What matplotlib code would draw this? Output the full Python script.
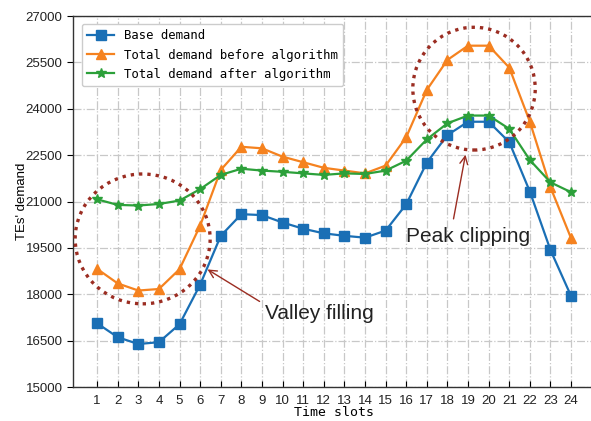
import matplotlib
matplotlib.use("Agg")
import matplotlib.pyplot as plt
from matplotlib.patches import Ellipse

slots = list(range(1, 25))
base_demand = [17060, 16610, 16390, 16450, 17030, 18310, 19890, 20590, 20560, 20320,
               20120, 19970, 19890, 19830, 20060, 20910, 22260, 23150, 23580, 23580,
               22920, 21320, 19430, 17940]
before_alg = [18820, 18350, 18120, 18170, 18810, 20220, 22020, 22770, 22720, 22450,
              22270, 22090, 22000, 21910, 22160, 23080, 24610, 25580, 26040, 26040,
              25330, 23580, 21460, 19810]
after_alg = [21070, 20890, 20870, 20920, 21030, 21400, 21860, 22060, 22000, 21960,
             21910, 21860, 21910, 21890, 22000, 22320, 23010, 23530, 23780, 23780,
             23350, 22340, 21620, 21300]
yticks = [15000, 16500, 18000, 19500, 21000, 22500, 24000, 25500, 27000]
series_names = ["Base demand", "Total demand before algorithm", "Total demand after algorithm"]

W, H = 591, 421
fig = plt.figure(figsize=(W / 100, H / 100), dpi=100)
ax_left, ax_bottom = 73 / W, (H - 387) / H
ax_w = 529 / W
ax_h = (387 - 16) / H
ax = fig.add_axes([ax_left, ax_bottom, ax_w, ax_h])

blue = "#1a6fb5"
orange = "#f5821f"
green = "#2ca03a"

ax.plot(slots, base_demand, color=blue, marker="s", markersize=7, lw=1.6, label=series_names[0], zorder=3)
ax.plot(slots, before_alg, color=orange, marker="^", markersize=7.5, lw=1.6, label=series_names[1], zorder=3)
ax.plot(slots, after_alg, color=green, marker="*", markersize=7, lw=1.6, label=series_names[2], zorder=3)

ax.set_xlim(-0.17, 25.5)
ax.set_ylim(15000, 27000)
ax.set_xticks(slots)
ax.set_yticks(yticks)
ax.tick_params(axis="x", direction="in", length=4, labelsize=9.5, pad=6)
ax.tick_params(axis="y", direction="out", length=4, labelsize=9.5)
for lab in ax.get_xticklabels() + ax.get_yticklabels():
    lab.set_fontfamily("Liberation Sans")
    lab.set_color("#222222")
ax.grid(True, color="#c8c8c8", linestyle="-.", lw=0.9, zorder=0)
ax.set_axisbelow(True)
for s in ax.spines.values():
    s.set_color("#333333")
    s.set_linewidth(1.0)

ax.set_xlabel("Time slots", fontfamily="DejaVu Sans Mono", fontsize=9.5, va="center")
ax.xaxis.set_label_coords((334 - 73) / 529, -(413 - 387) / 371)
ax.set_ylabel("TEs' demand", fontfamily="Liberation Sans", fontsize=9.5, va="center")
ax.yaxis.set_label_coords((22 - 73) / 529, 0.5)

leg = ax.legend(loc="upper left", prop={"family": "DejaVu Sans Mono", "size": 8.8},
                bbox_to_anchor=(0.005, 0.995), frameon=True, fancybox=True,
                edgecolor="#cccccc", framealpha=1.0, handlelength=2.2, borderpad=0.45,
                labelspacing=0.5)

red = "#9b2d22"
ax.add_patch(Ellipse((3.21, 19790), 6.55, 4200, fill=False, edgecolor=red,
                     linestyle=(0, (1, 1.5)), lw=2.4, zorder=4))
ax.add_patch(Ellipse((19.29, 24650), 5.94, 3970, fill=False, edgecolor=red,
                     linestyle=(0, (1, 1.5)), lw=2.4, zorder=4))

ax.annotate("", xy=(6.24, 18850), xytext=(9.0, 17720),
            arrowprops=dict(arrowstyle="->", color=red, lw=1.0, mutation_scale=14), zorder=5)
ax.text(9.15, 17380, "Valley filling", fontsize=15, fontfamily="Liberation Sans",
        color="#222222", va="center", ha="left")
ax.annotate("", xy=(18.9, 22600), xytext=(18.27, 20350),
            arrowprops=dict(arrowstyle="->", color=red, lw=1.0, mutation_scale=14), zorder=5)
ax.text(16.0, 19860, "Peak clipping", fontsize=15, fontfamily="Liberation Sans",
        color="#222222", va="center", ha="left")

fig.savefig("out.png", dpi=100)
